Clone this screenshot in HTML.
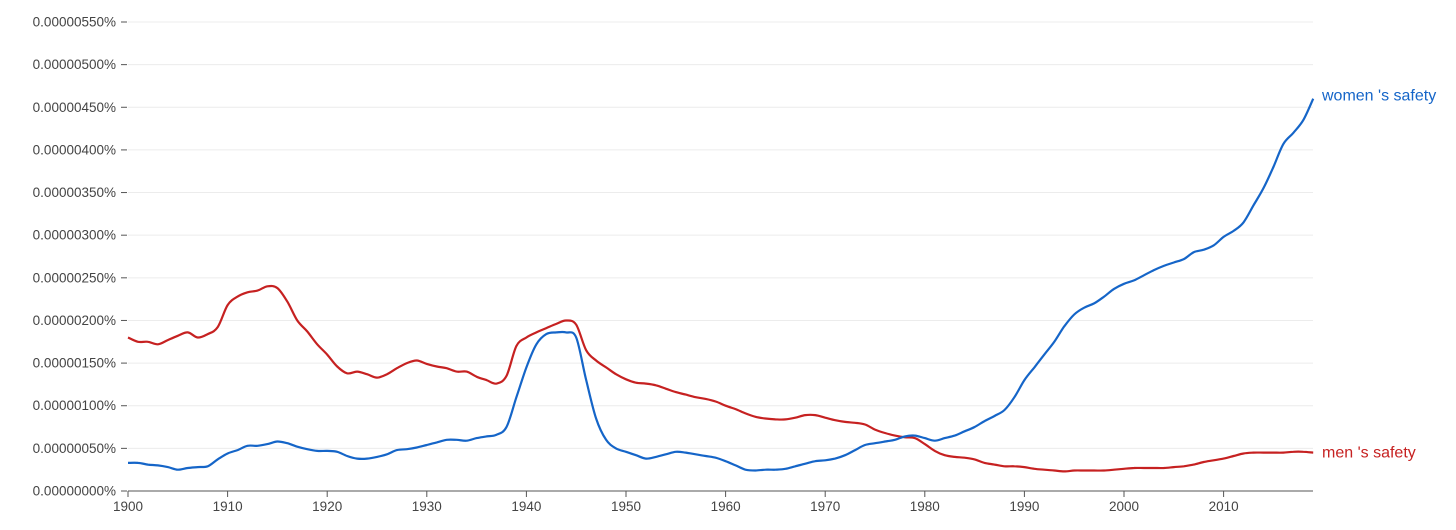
<!DOCTYPE html>
<html><head><meta charset="utf-8"><style>
html,body{margin:0;padding:0;background:#fff;}
svg{display:block;font-family:"Liberation Sans",sans-serif;}
</style></head><body>
<svg id="chart" width="1456" height="530" viewBox="0 0 1456 530" xmlns="http://www.w3.org/2000/svg">
<g id="grid"></g>
<g id="yaxis"></g>
<g id="xaxis"></g>
<g id="series"></g>
</svg>
<script>
const years = [];
for (let y = 1900; y <= 2019; y++) years.push(y);
// values in units of 1e-8 %
const womenSafety = [33,33,31,30,28,25,27,28,29,37,44,48,53,53,55,58,56,52,49,47,47,46,41,38,38,40,43,48,49,51,54,57,60,60,59,62,64,66,75,110,145,172,184,186,186,180,130,85,60,50,46,42,38,40,43,46,45,43,41,39,35,30,25,24,25,25,26,29,32,35,36,38,42,48,54,56,58,60,64,65,62,59,62,65,70,75,82,88,95,110,130,145,160,175,193,207,215,220,228,237,243,247,253,259,264,268,272,280,283,288,298,305,315,335,355,380,407,420,435,460];
const menSafety = [180,175,175,172,177,182,186,180,184,192,218,228,233,235,240,238,222,200,187,172,160,146,138,140,137,133,137,144,150,153,149,146,144,140,140,134,130,126,135,170,180,186,191,196,200,195,165,153,145,137,131,127,126,124,120,116,113,110,108,105,100,96,91,87,85,84,84,86,89,89,86,83,81,80,78,72,68,65,63,62,55,47,42,40,39,37,33,31,29,29,28,26,25,24,23,24,24,24,24,25,26,27,27,27,27,28,29,31,34,36,38,41,44,45,45,45,45,46,46,45];
const yTicks = [0,50,100,150,200,250,300,350,400,450,500,550];
const yTickLabels = ["0.00000000%","0.00000050%","0.00000100%","0.00000150%","0.00000200%","0.00000250%","0.00000300%","0.00000350%","0.00000400%","0.00000450%","0.00000500%","0.00000550%"];
const xTicks = [1900,1910,1920,1930,1940,1950,1960,1970,1980,1990,2000,2010];
const seriesNames = ["women 's safety","men 's safety"];

const X0=128, XPY=9.96, Y0=491, YPU=(491-22)/550;
const xs = y => X0 + (y-1900)*XPY;
const ys = v => Y0 - v*YPU;
const NS="http://www.w3.org/2000/svg";
function mk(tag, parent){const e=document.createElementNS(NS,tag);parent.appendChild(e);return e;}
const grid=document.getElementById('grid'), ya=document.getElementById('yaxis'), xa=document.getElementById('xaxis'), sg=document.getElementById('series');

yTicks.forEach((v,i)=>{
  const y=ys(v);
  if(v>0){
    const g=mk('line',grid);
    
    
    g.setAttribute('x1',X0);g.setAttribute('x2',1313);g.setAttribute('y1',y);g.setAttribute('y2',y);
    g.setAttribute('stroke','#ececec');g.setAttribute('stroke-width','1');
  }
  const t=mk('line',ya);
  
  
  t.setAttribute('x1',121);t.setAttribute('x2',127);t.setAttribute('y1',y);t.setAttribute('y2',y);
  t.setAttribute('stroke','#555');
  const l=mk('text',ya);
  
  
  l.setAttribute('x',116);l.setAttribute('y',y+4.5);l.setAttribute('text-anchor','end');
  l.setAttribute('font-size','13.5');l.setAttribute('fill','#444');
  l.textContent=yTickLabels[i];
});
const ax=mk('line',xa);


ax.setAttribute('x1',X0);ax.setAttribute('x2',1313);ax.setAttribute('y1',Y0);ax.setAttribute('y2',Y0);
ax.setAttribute('stroke','#777');ax.setAttribute('stroke-width','1.2');
xTicks.forEach(yr=>{
  const x=xs(yr);
  const t=mk('line',xa);
  
  
  t.setAttribute('x1',x);t.setAttribute('x2',x);t.setAttribute('y1',Y0);t.setAttribute('y2',Y0+6);
  t.setAttribute('stroke','#555');
  const l=mk('text',xa);
  
  
  l.setAttribute('x',x);l.setAttribute('y',511);l.setAttribute('text-anchor','middle');
  l.setAttribute('font-size','13.5');l.setAttribute('fill','#444');
  l.textContent=yr;
});
function smooth(vals){
  const p=vals.map((v,i)=>[xs(years[i]),ys(v)]);
  let d='M'+p[0][0].toFixed(1)+','+p[0][1].toFixed(1);
  for(let i=0;i<p.length-1;i++){
    const p0=p[Math.max(0,i-1)],p1=p[i],p2=p[i+1],p3=p[Math.min(p.length-1,i+2)];
    const c1=[p1[0]+(p2[0]-p0[0])/6,p1[1]+(p2[1]-p0[1])/6];
    const c2=[p2[0]-(p3[0]-p1[0])/6,p2[1]-(p3[1]-p1[1])/6];
    d+='C'+c1[0].toFixed(1)+','+c1[1].toFixed(1)+' '+c2[0].toFixed(1)+','+c2[1].toFixed(1)+' '+p2[0].toFixed(1)+','+p2[1].toFixed(1);
  }
  return d;
}
const red=mk('path',sg);


red.setAttribute('d',smooth(menSafety));red.setAttribute('fill','none');red.setAttribute('stroke','#c62121');red.setAttribute('stroke-width','2.2');
const blue=mk('path',sg);


blue.setAttribute('d',smooth(womenSafety));blue.setAttribute('fill','none');blue.setAttribute('stroke','#1565c8');blue.setAttribute('stroke-width','2.2');
const lw=mk('text',sg);


lw.setAttribute('x',1322);lw.setAttribute('y',ys(womenSafety[womenSafety.length-1])+2);
lw.setAttribute('font-size','16');lw.setAttribute('fill','#1565c8');
lw.textContent=seriesNames[0];
const lm=mk('text',sg);


lm.setAttribute('x',1322);lm.setAttribute('y',ys(menSafety[menSafety.length-1])+5);
lm.setAttribute('font-size','16');lm.setAttribute('fill','#c62121');
lm.textContent=seriesNames[1];
</script>
</body></html>
